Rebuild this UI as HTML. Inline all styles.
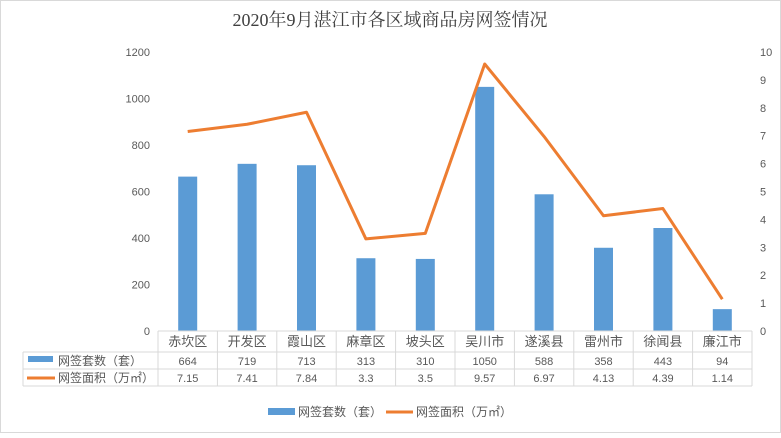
<!DOCTYPE html>
<html><head><meta charset="utf-8"><style>
body{margin:0;background:#fff}
svg text{font-family:"Liberation Sans","Noto Sans CJK SC",sans-serif;fill:#595959}
</style></head><body>
<svg width="781" height="433" xmlns="http://www.w3.org/2000/svg">
<rect x="0.5" y="0.5" width="780" height="432" fill="#fff" stroke="#d9d9d9"/>
<text x="390" y="26" text-anchor="middle" style="font-family:'Liberation Serif','Noto Serif CJK SC',serif;font-size:18px;fill:#404040">2020年9月湛江市各区域商品房网签情况</text>
<g id="g"></g>
</svg>
<script>
const categories=["赤坎区","开发区","霞山区","麻章区","坡头区","吴川市","遂溪县","雷州市","徐闻县","廉江市"];
const counts=[664,719,713,313,310,1050,588,358,443,94];
const areas=[7.15,7.41,7.84,3.3,3.5,9.57,6.97,4.13,4.39,1.14];
const areaLabels=["7.15","7.41","7.84","3.3","3.5","9.57","6.97","4.13","4.39","1.14"];
const leftTicks=[0,200,400,600,800,1000,1200];
const rightTicks=[0,1,2,3,4,5,6,7,8,9,10];
const NS="http://www.w3.org/2000/svg",g=document.getElementById('g');
const X0=158,X1=752,Y0=331,YT=52,cw=(X1-X0)/categories.length;
const yL=v=>Y0-v/1200*(Y0-YT), yR=v=>Y0-v/10*(Y0-YT), xc=i=>X0+cw*(i+0.5);
function el(t,a,txt){const e=document.createElementNS(NS,t);for(const k in a)e.setAttribute(k,a[k]);if(txt!==undefined)e.textContent=txt;g.appendChild(e);return e;}
leftTicks.forEach(v=>{const e=el('text',{x:150,y:yL(v)+4,'text-anchor':'end','font-size':11},v);

});
rightTicks.forEach(v=>{const e=el('text',{x:760,y:yR(v)+4,'font-size':11},v);

});
counts.forEach((v,i)=>{const e=el('rect',{x:xc(i)-9.5,y:yL(v),width:19,height:Y0-yL(v),fill:'#5b9bd5'});

});
const pl=el('polyline',{points:areas.map((v,i)=>xc(i)+','+yR(v)).join(' '),fill:'none',stroke:'#ed7d31','stroke-width':3,'stroke-linejoin':'round'});


const rows=[331,352,369,386],lc='#d9d9d9';
[0,1,2,3].forEach(k=>{const l=el('line',{x1:k==0?X0:23,x2:X1,y1:rows[k],y2:rows[k],stroke:lc});

});
for(let i=0;i<=categories.length;i++){const l=el('line',{x1:X0+cw*i,x2:X0+cw*i,y1:331,y2:386,stroke:lc});

}
const l0=el('line',{x1:23,x2:23,y1:352,y2:386,stroke:lc});


categories.forEach((c,i)=>{
const a=el('text',{x:xc(i),y:346,'text-anchor':'middle','font-size':13},c);


const b=el('text',{x:xc(i),y:365,'text-anchor':'middle','font-size':11},counts[i]);


const d=el('text',{x:xc(i),y:382,'text-anchor':'middle','font-size':11},areaLabels[i]);

});
const k1=el('rect',{x:28,y:356,width:25,height:6,fill:'#5b9bd5'});


const t1=el('text',{x:58,y:365,'font-size':12},'网签套数（套）');


const k2=el('line',{x1:27,x2:55,y1:378,y2:378,stroke:'#ed7d31','stroke-width':3});


const t2=el('text',{x:58,y:382,'font-size':12},'网签面积（万㎡）');


const L1=el('rect',{x:268,y:408,width:27,height:7,fill:'#5b9bd5'});


const L2=el('text',{x:298,y:416,'font-size':12},'网签套数（套）');


const L3=el('line',{x1:386,x2:413,y1:412,y2:412,stroke:'#ed7d31','stroke-width':3});


const L4=el('text',{x:416,y:416,'font-size':12},'网签面积（万㎡）');


</script>
</body></html>
